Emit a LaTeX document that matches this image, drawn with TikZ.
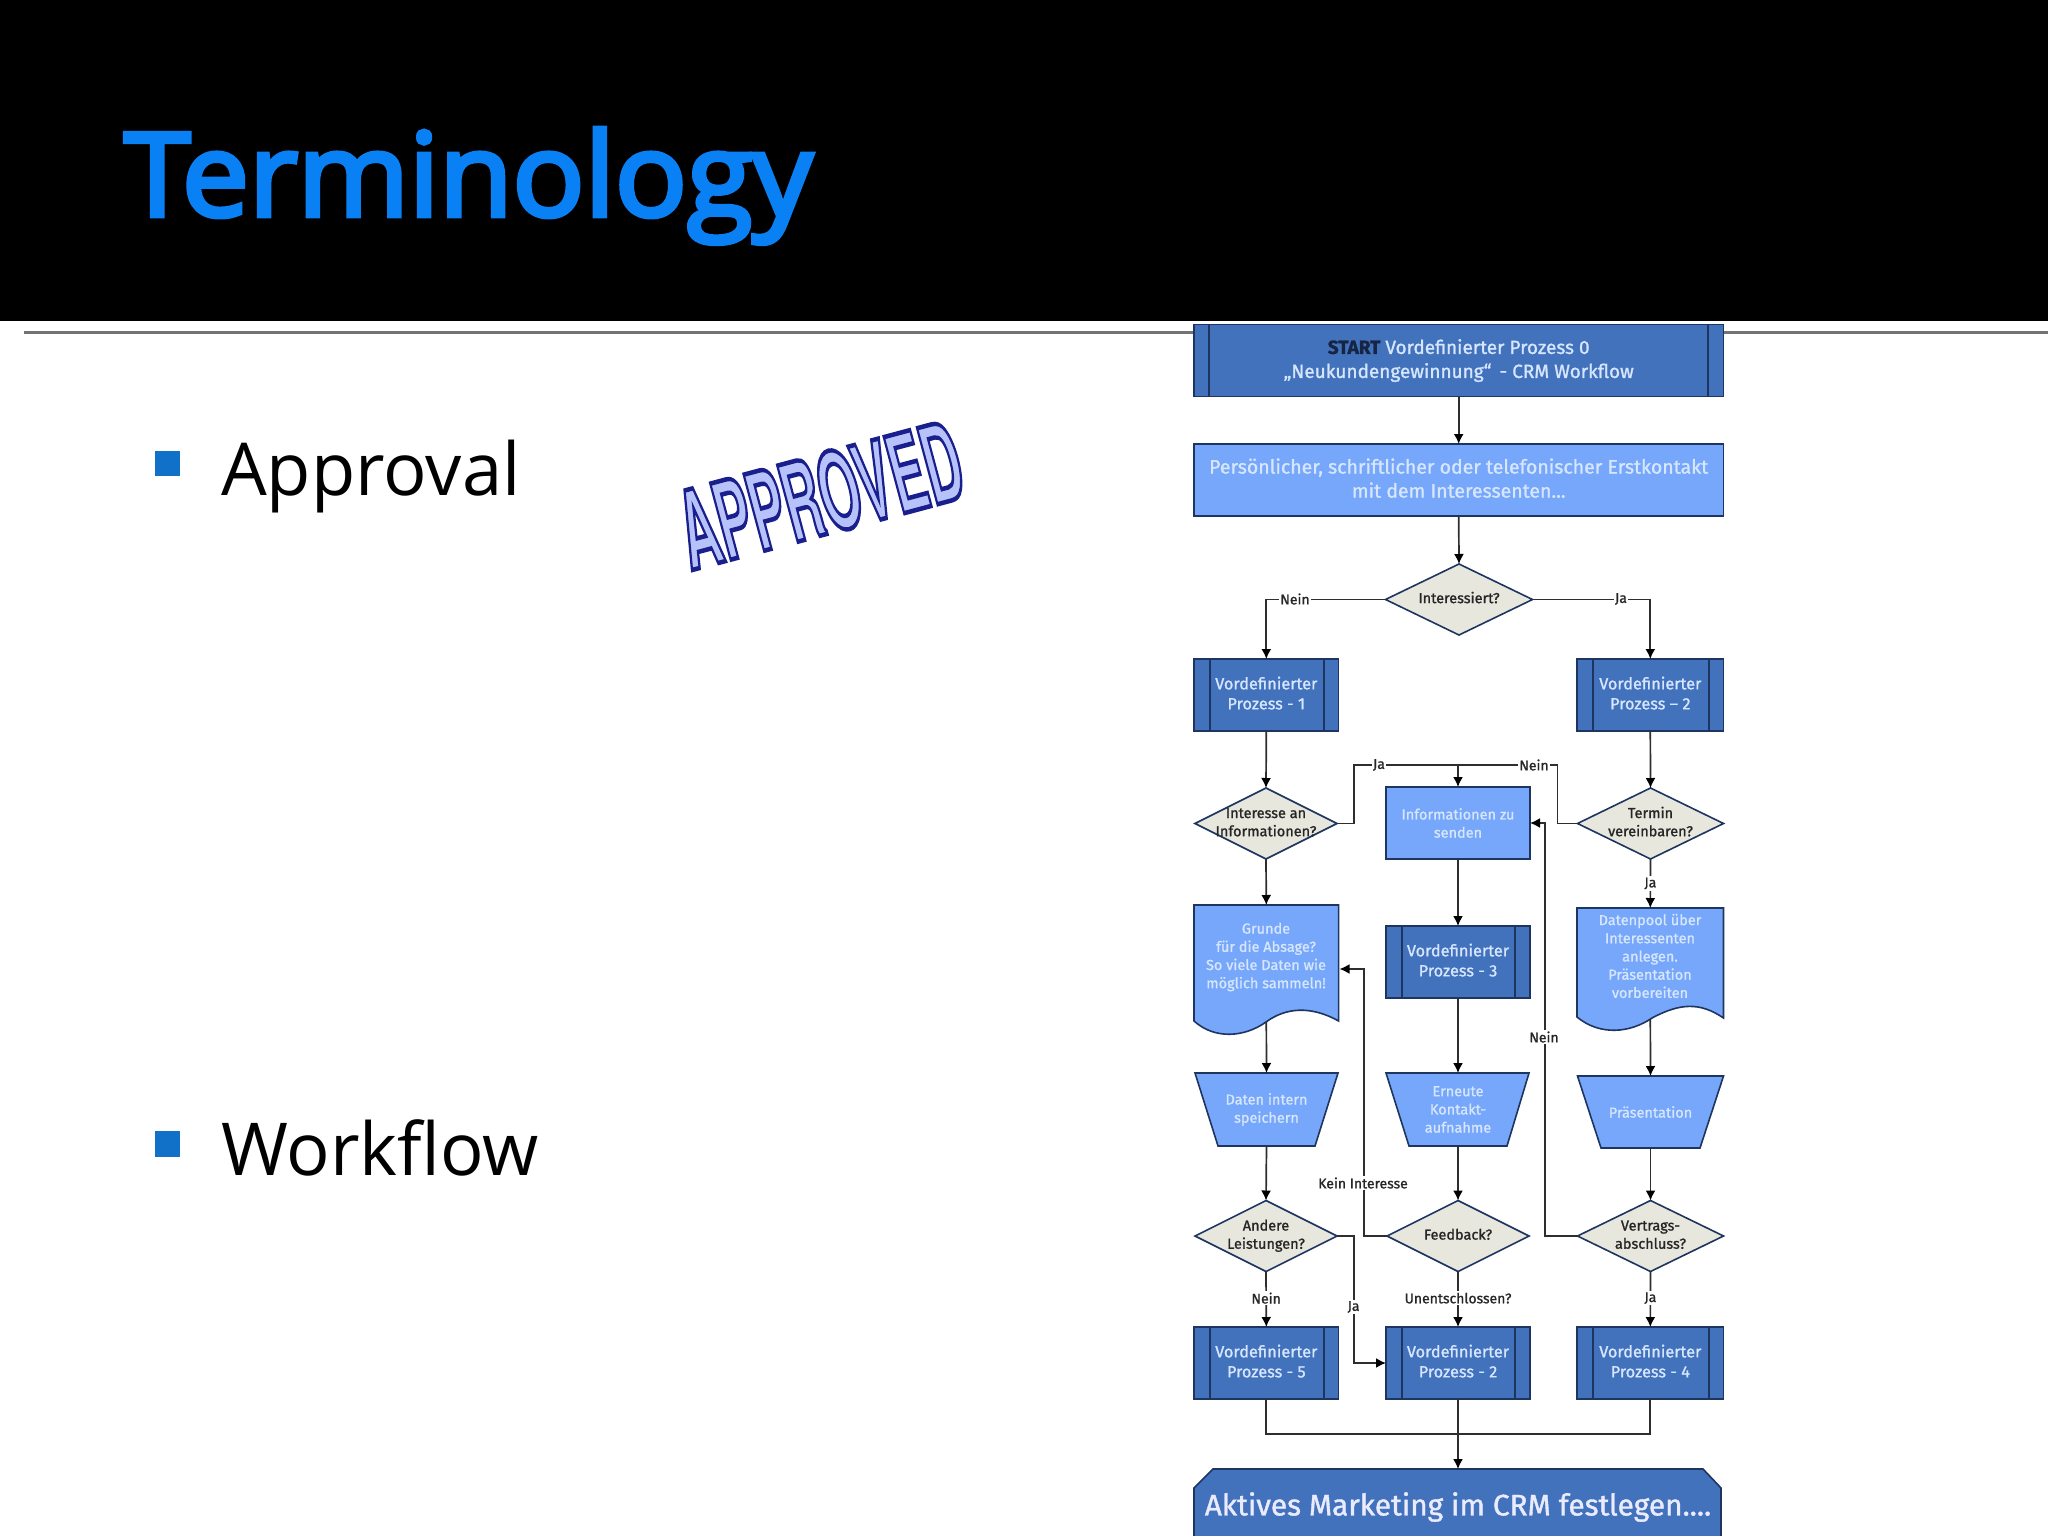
\documentclass[tikz,border=0pt]{standalone}
\usepackage{fontspec}
\usetikzlibrary{arrows.meta,shapes.geometric}
\newfontfamily\flowfont[RawFeature={embolden=1.2}]{Fira Sans}
\newfontfamily\slidefont{Open Sans}
\newfontfamily\titlefont[RawFeature={embolden=4}]{Open Sans}
\newfontfamily\stampfont{TeX Gyre Heros}
\newcommand\dl[1]{\makebox[0pt]{\begin{tabular}{@{}c@{}}#1\end{tabular}}}
\definecolor{edgec}{HTML}{1E3560}
\definecolor{dkfill}{HTML}{4272BC}
\definecolor{ltfill}{HTML}{76A7FA}
\definecolor{dfill}{HTML}{E7E7DD}
\definecolor{ptext}{HTML}{D6E6FF}
\definecolor{conn}{HTML}{2E2E2E}
\definecolor{titleblue}{HTML}{0A80F5}
\definecolor{bulletblue}{HTML}{1170C8}
\tikzset{
  x=1pt,y=-1pt,
  shapebase/.style={outer sep=0pt,inner sep=0pt,line width=1.6pt,draw=edgec,align=center,text=ptext,font=\flowfont\fontsize{15}{19.5}\selectfont},
  preproc/.style={shapebase,rectangle,fill=dkfill,minimum height=72pt,text depth=4pt,font=\flowfont\fontsize{16.3}{20}\selectfont,
    path picture={\draw[edgec,line width=2pt]
      ([xshift=15.5pt]path picture bounding box.north west)--([xshift=15.5pt]path picture bounding box.south west)
      ([xshift=-15pt]path picture bounding box.north east)--([xshift=-15pt]path picture bounding box.south east);}},
  lightbox/.style={shapebase,rectangle,fill=ltfill,minimum height=72pt,font=\flowfont\fontsize{14.5}{18.2}\selectfont},
  decide/.style={shapebase,diamond,aspect=2,fill=dfill,text=black!85,font=\flowfont\fontsize{14.5}{18.2}\selectfont,minimum height=71pt},
  docshape/.style={draw=edgec,fill=ltfill,line width=1.6pt},
  doctext/.style={align=center,text=ptext,inner sep=0pt,outer sep=0pt,font=\flowfont\fontsize{14.5}{18.2}\selectfont},
  flowline/.style={draw=conn,line width=1.7pt},
  arrowline/.style={flowline,-{Latex[length=10pt,width=10pt,black]}},
  lbl/.style={fill=white,inner sep=1.5pt,text=black!85,font=\flowfont\fontsize{14}{16}\selectfont},
  bullet/.style={fill=bulletblue,draw=none,minimum width=25.5pt,minimum height=25.5pt,inner sep=0pt},
  bodytext/.style={anchor=base west,inner sep=0pt,text=black,font=\slidefont\fontsize{73}{80}\selectfont,transform shape,xscale=.99},
}
\begin{document}
\begin{tikzpicture}
\useasboundingbox (0,0) rectangle (2048,1536);
\fill[white] (0,0) rectangle (2048,1536);
\fill[black] (0,0) rectangle (2048,321);
\draw[black!55,line width=3pt] (24,332) -- (2048,332);
\node[anchor=base west,inner sep=0pt,text=titleblue,font=\titlefont\fontsize{116}{120}\selectfont,transform shape,xscale=1.03] (title) at (124,216) {Terminology};
\node[bullet] (b1) at (167.5,463.5) {};
\node[bodytext] (approval) at (221,495) {Approval};
\node[bullet] (b2) at (167.5,1144) {};
\node[bodytext] (workflow) at (221,1175) {Workflow};
% stamp
\node[inner sep=0pt,rotate=15,transform shape,xscale=.48,font=\stampfont\bfseries\fontsize{108}{108}\selectfont] (stamp) at (820,495)
 {\special{pdf:code q 2 Tr 4.5 w 0.10 0.12 0.55 RG 0.72 0.76 0.98 rg}APPROVED\special{pdf:code Q}};
% flow chart shapes
\node[preproc,minimum width=529.5pt,text depth=4pt,font=\flowfont\fontsize{19}{24}\selectfont] (start) at (1458.7,360.5) {\textcolor{edgec!70!black}{\bfseries START} Vordefinierter Prozess 0\\„Neukundengewinnung“ \,- CRM Workflow};
\node[lightbox,minimum width=529.5pt,text depth=4pt,font=\flowfont\fontsize{19.5}{24}\selectfont] (erst) at (1458.7,480) {Persönlicher, schriftlicher oder telefonischer Erstkontakt\\mit dem Interessenten...};
\node[decide,minimum width=147pt] (d1) at (1459,599.5) {\dl{Interessiert?}};
\node[preproc,minimum width=144.5pt] (p1) at (1266.3,695) {Vordefinierter\\Prozess - 1};
\node[preproc,minimum width=146.5pt] (p2) at (1650.3,695) {Vordefinierter\\Prozess – 2};
\node[decide,minimum width=142pt] (d2) at (1266,823.5) {\dl{Interesse an\\Informationen?}};
\node[lightbox,minimum width=144pt] (info) at (1458,823) {Informationen zu\\senden};
\node[decide,minimum width=146pt] (d3) at (1650.5,823.5) {\dl{Termin\\vereinbaren?}};
\path[docshape] (1194,905) -- (1338.6,905) -- (1338.6,1021) .. controls (1310,1005) and (1285,1008) .. (1266,1022) .. controls (1245,1037) and (1215,1040) .. (1194,1021) -- cycle;
\node[doctext] (doc1) at (1266,957) {Grunde\\für die Absage?\\So viele Daten wie\\möglich sammeln!};
\node[preproc,minimum width=144pt] (p3) at (1458,962) {Vordefinierter\\Prozess - 3};
\path[docshape] (1577,908) -- (1723.5,908) -- (1723.5,1018) .. controls (1700,1002) and (1680,1003) .. (1652,1018) .. controls (1630,1033) and (1600,1036) .. (1577,1017) -- cycle;
\node[doctext] (doc2) at (1650,956) {Datenpool über\\Interessenten\\anlegen.\\Präsentation\\vorbereiten};
\coordinate (doc1top) at (1266.3,905);
\coordinate (doc1low) at (1266.3,1022);
\coordinate (doc1right) at (1339.5,969);
\coordinate (doc2top) at (1650.3,908);
\coordinate (doc2low) at (1650.3,1019);
\path[docshape] (1195,1073) -- (1338,1073) -- (1315,1146) -- (1218,1146) -- cycle;
\node[doctext,minimum width=143pt,minimum height=73pt] (t1) at (1266.5,1109.5) {Daten intern\\speichern};
\path[docshape] (1386,1073) -- (1529,1073) -- (1507,1146) -- (1409,1146) -- cycle;
\node[doctext,minimum width=143pt,minimum height=73pt] (t2) at (1458,1109.5) {Erneute\\Kontakt-\\aufnahme};
\path[docshape] (1577.5,1076) -- (1723.5,1076) -- (1700,1148) -- (1601,1148) -- cycle;
\node[doctext,minimum width=146pt,minimum height=72pt] (t3) at (1650.5,1112) {Präsentation};
\node[decide,minimum width=142pt] (d4) at (1266,1236) {\dl{Andere\\Leistungen?}};
\node[decide,minimum width=142pt] (d5) at (1458,1236) {\dl{Feedback?}};
\node[decide,minimum width=146pt] (d6) at (1650.5,1236) {\dl{Vertrags-\\abschluss?}};
\node[preproc,minimum width=144.5pt] (p5) at (1266.3,1363) {Vordefinierter\\Prozess - 5};
\node[preproc,minimum width=144pt] (pm) at (1458,1363) {Vordefinierter\\Prozess - 2};
\node[preproc,minimum width=146.5pt] (p4) at (1650.3,1363) {Vordefinierter\\Prozess - 4};
\path[draw=edgec,fill=dkfill,line width=1.6pt] (1194,1536) -- (1194,1488) -- (1213,1469) -- (1703,1469) -- (1721,1488) -- (1721,1536);
\node[text=white!92!blue,inner sep=0pt,outer sep=0pt,minimum width=527pt,minimum height=60pt,font=\flowfont\fontsize{29.8}{32}\selectfont] (final) at (1458,1507) {Aktives Marketing im CRM festlegen....};
% helper coordinates
\coordinate (finaltop) at (1458,1469);
\coordinate (busl) at (1354,765);
\coordinate (busm) at (1458,765);
\coordinate (busr) at (1557.5,765);
\coordinate (kein) at (1364,1236);
\coordinate (neinv) at (1545,1236);
\coordinate (jav) at (1354,1236);
\coordinate (busb) at (1458,1434);
% connectors
\draw[arrowline] (start.south) -- (erst.north);
\draw[arrowline] (erst.south) -- (d1.north);
\draw[arrowline] (d1.west) -| (p1.north);
\draw[arrowline] (d1.east) -| (p2.north);
\node[lbl] (lnein1) at (1295,599) {Nein};
\node[lbl] (lja1) at (1621,599) {Ja};
\draw[arrowline] (p1.south) -- (d2.north);
\draw[arrowline] (p2.south) -- (d3.north);
\draw[flowline] (d2.east) -| (busl) -- (busr) |- (d3.west);
\draw[arrowline] (busm) -- (info.north);
\node[lbl] (lja2) at (1379,765) {Ja};
\node[lbl] (lnein2) at (1534,765) {Nein};
\draw[arrowline] (d2.south) -- (doc1top);
\draw[arrowline] (info.south) -- (p3.north);
\draw[arrowline] (d3.south) -- node[lbl,pos=.5] (lja3) {Ja} (doc2top);
\draw[arrowline] (doc1low) -- (t1.north);
\draw[arrowline] (p3.south) -- (t2.north);
\draw[arrowline] (doc2low) -- (t3.north);
\draw[arrowline] (t1.south) -- (d4.north);
\draw[arrowline] (t2.south) -- (d5.north);
\draw[arrowline] (t3.south) -- (d6.north);
\draw[arrowline] (d5.west) -- (kein) |- (doc1right);
\node[lbl] (lkein) at (1363,1183) {Kein Interesse};
\draw[arrowline] (d6.west) -- (neinv) |- (info.east);
\node[lbl] (lnein3) at (1544,1037) {Nein};
\draw[arrowline] (d4.south) -- node[lbl,pos=.48] (lnein4) {Nein} (p5.north);
\draw[arrowline] (d5.south) -- node[lbl,pos=.48] (lunent) {Unentschlossen?} (pm.north);
\draw[arrowline] (d6.south) -- node[lbl,pos=.48] (lja4) {Ja} (p4.north);
\draw[arrowline] (d4.east) -- (jav) |- (pm.west);
\node[lbl] (lja5) at (1353.6,1307) {Ja};
\draw[flowline] (p5.south) |- (busb) -| (p4.south);
\draw[arrowline] (pm.south) -- (finaltop);
\end{tikzpicture}
\end{document}
